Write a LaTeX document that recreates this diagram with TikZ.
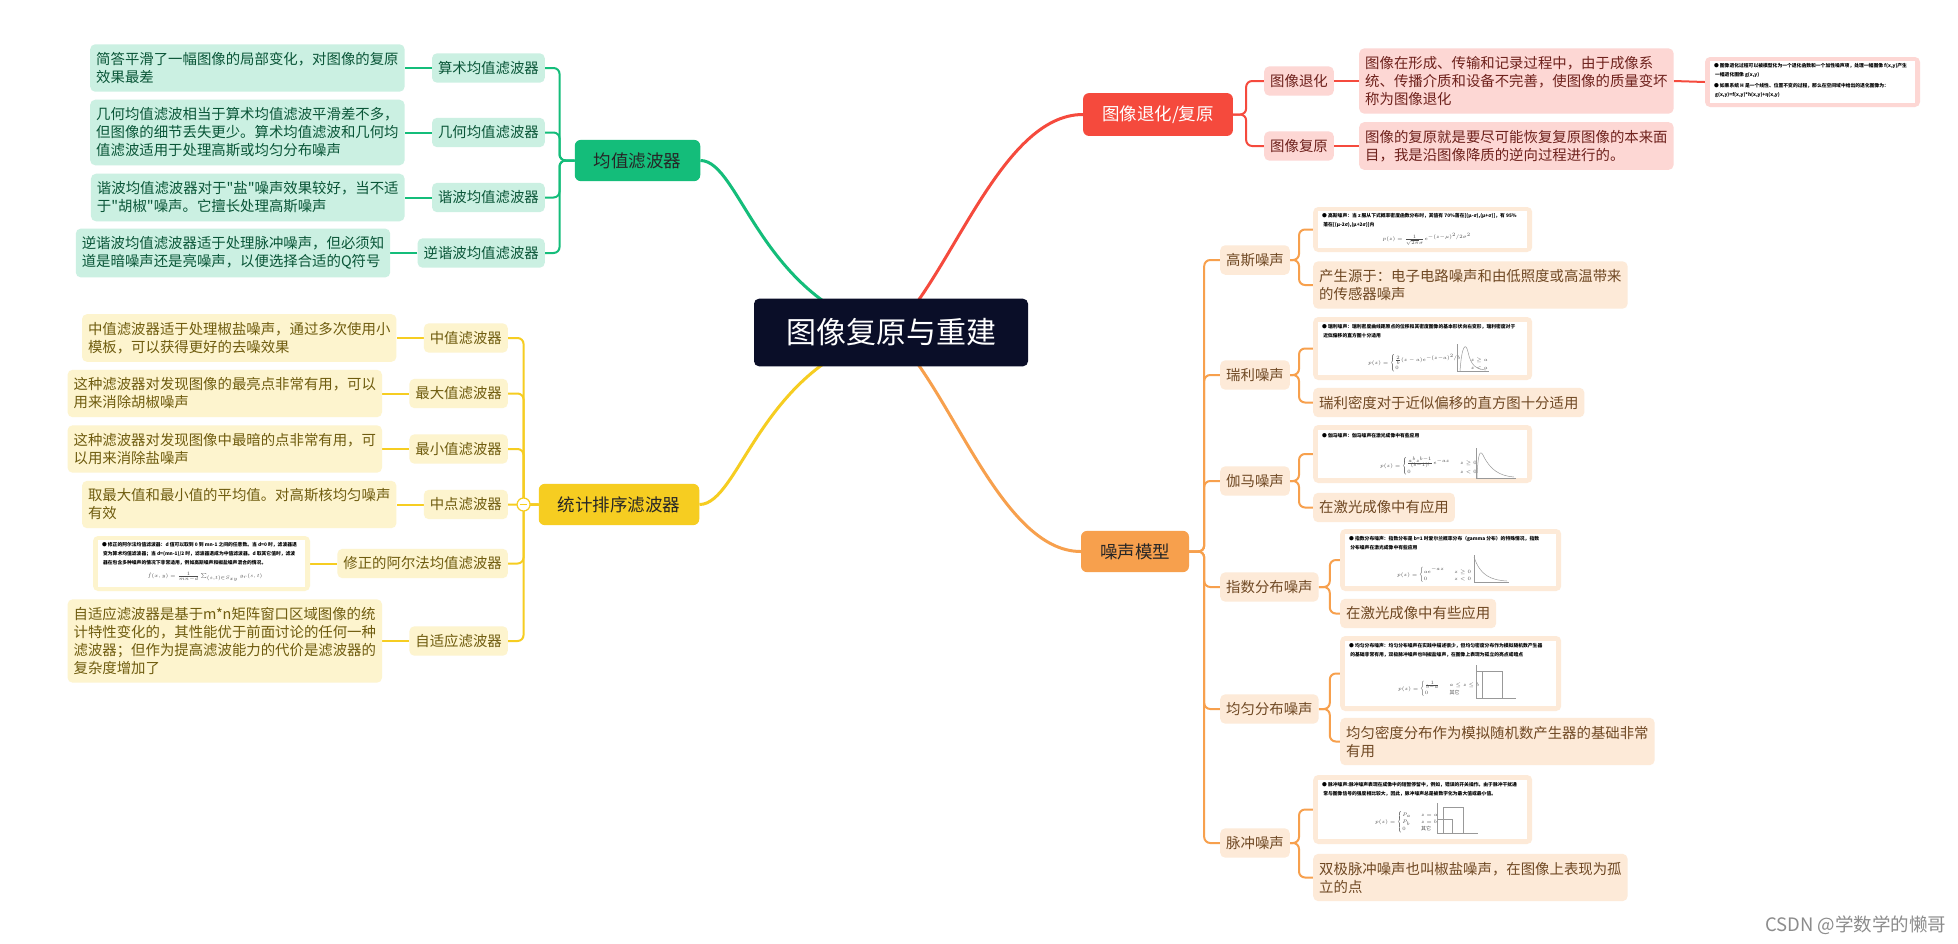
\documentclass[tikz,border=0pt]{standalone}
\usepackage{fontspec}
\usepackage{amsmath}
\setmainfont{Noto Sans CJK SC}
\newfontfamily\cjkplain{Noto Sans CJK SC}
\usetikzlibrary{positioning,calc,backgrounds}
\definecolor{mroot}{RGB}{10,14,40}
\definecolor{mgreen}{RGB}{20,189,122}
\definecolor{myellow}{RGB}{246,205,33}
\definecolor{mred}{RGB}{245,74,61}
\definecolor{morange}{RGB}{247,160,77}
\newcommand\fsroot{\fontsize{30}{36}\selectfont}
\newcommand\fstopic{\fontsize{17.5}{21}\selectfont}
\newcommand\fsbody{\fontsize{14.4}{18}\selectfont}
\newcommand\fsshot{\fontsize{4.8}{9}\selectfont\bfseries}
\newcommand\fsform{\fontsize{5}{6}\selectfont}
\newcommand\dq{{\cjkplain\char34}}
\tikzset{
  root/.style={rectangle,rounded corners=5pt,fill=mroot,text=white,
    font=\fsroot,inner xsep=32pt,inner ysep=20pt},
  topic/.style={rectangle,rounded corners=6pt,fill=#1,text=black!85,
    font=\fstopic,inner xsep=19pt,inner ysep=12.5pt},
  sub/.style={rectangle,rounded corners=5pt,fill=#1!22,text=#1!45!black,
    font=\fsbody,inner xsep=6pt,inner ysep=8pt},
  note/.style={sub=#1,align=left},
  shot/.style={rectangle,rounded corners=5pt,fill=#1!22},
  shotin/.style={rectangle,fill=white},
  tinytxt/.style={font=\fsshot,align=left,inner sep=0pt,anchor=north west},
  tinyfx/.style={font=\fsform,text=black!70,inner sep=0pt},
  sketch/.style={draw=black!40,line width=0.5pt},
  link/.style={line width=2pt,draw=#1,rounded corners=6pt},
  trunk/.style={line width=3pt,draw=#1},
  fold/.style={circle,draw=myellow,line width=1.2pt,fill=white,
    minimum size=13pt,inner sep=0pt,
    path picture={\draw[myellow,line width=1.2pt]
      ([xshift=3pt]path picture bounding box.west) --
      ([xshift=-3pt]path picture bounding box.east);}},
  wmark/.style={font=\fontsize{18.5}{22}\selectfont,text=black!45},
}

\begin{document}
\begin{tikzpicture}[x=1pt,y=-1pt]
  \useasboundingbox (0,0) rectangle (1958,943);

  % centre
  \node[root] (root) at (891,332.5) {图像复原与重建};

  % mean filters
  \node[topic=mgreen] (mean) at (637.5,160.5) {均值滤波器};
  \node[sub=mgreen,anchor=east] (arith) at (545,68) {算术均值滤波器};
  \node[sub=mgreen,anchor=east] (geom) at (545,132.5) {几何均值滤波器};
  \node[sub=mgreen,anchor=east] (harm) at (545,197.5) {谐波均值滤波器};
  \node[sub=mgreen,anchor=east] (charm) at (545,253) {逆谐波均值滤波器};
  \node[note=mgreen,left=27pt of arith] (arithn)
    {简答平滑了一幅图像的局部变化，对图像的复原\\效果最差};
  \node[note=mgreen,left=27pt of geom] (geomn)
    {几何均值滤波相当于算术均值滤波平滑差不多，\\但图像的细节丢失更少。算术均值滤波和几何均\\值滤波适用于处理高斯或均匀分布噪声};
  \node[note=mgreen,left=27pt of harm] (harmn)
    {谐波均值滤波器对于\dq 盐\dq 噪声效果较好，当不适\\于\dq 胡椒\dq 噪声。它擅长处理高斯噪声};
  \node[note=mgreen,left=27pt of charm] (charmn)
    {逆谐波均值滤波器适于处理脉冲噪声，但必须知\\道是暗噪声还是亮噪声，以便选择合适的Q符号};

  % order-statistic filters
  \node[topic=myellow] (order) at (619,504.5) {统计排序滤波器};
  \node[sub=myellow,anchor=east] (median) at (508,338) {中值滤波器};
  \node[sub=myellow,anchor=east] (maxf) at (508,393.5) {最大值滤波器};
  \node[sub=myellow,anchor=east] (minf) at (508,449) {最小值滤波器};
  \node[sub=myellow,anchor=east] (midp) at (508,504.5) {中点滤波器};
  \node[sub=myellow,anchor=east] (alpha) at (508,563.5) {修正的阿尔法均值滤波器};
  \node[sub=myellow,anchor=east] (adapt) at (508,641) {自适应滤波器};
  \node[note=myellow,left=27pt of median] (mediann)
    {中值滤波器适于处理椒盐噪声，通过多次使用小\\模板，可以获得更好的去噪效果};
  \node[note=myellow,left=27pt of maxf] (maxfn)
    {这种滤波器对发现图像的最亮点非常有用，可以\\用来消除胡椒噪声};
  \node[note=myellow,left=27pt of minf] (minfn)
    {这种滤波器对发现图像中最暗的点非常有用，可\\以用来消除盐噪声};
  \node[note=myellow,left=27pt of midp] (midpn)
    {取最大值和最小值的平均值。对高斯核均匀噪声\\有效};
  \node[shot=myellow,left=27pt of alpha,minimum width=217pt,minimum height=55pt] (alphaimg) {};
  \node[shotin,minimum width=207pt,minimum height=47pt] (alphain) at (alphaimg) {};
  \node[tinytxt] (alphat) at ($(alphain.north west)+(4,2)$)
    {● 修正的阿尔法均值滤波器：d 值可以取到 0 到 mn-1 之间的任意数。当 d=0 时，滤波器退\\
     \ 变为算术均值滤波器；当 d=(mn-1)/2 时，滤波器退成为中值滤波器。d 取其它值时，滤波\\
     \ 器在包含多种噪声的情况下非常适用，例如高斯噪声和椒盐噪声混合的情况。};
  \node[tinyfx] (alphaf) at (205,577)
    {$\hat f(x,y)=\frac{1}{mn-d}\sum_{(s,t)\in S_{xy}} g_r(s,t)$};
  \node[note=myellow,left=27pt of adapt] (adaptn)
    {自适应滤波器是基于m*n矩阵窗口区域图像的统\\计特性变化的，其性能优于前面讨论的任何一种\\滤波器；但作为提高滤波能力的代价是滤波器的\\复杂度增加了};

  % degradation / restoration
  \node[topic=mred,text=white] (degr) at (1158,114.5) {图像退化/复原};
  \node[sub=mred,anchor=west] (degrs) at (1264,81) {图像退化};
  \node[sub=mred,anchor=west] (rests) at (1264,146) {图像复原};
  \node[note=mred,right=25pt of degrs] (degrn)
    {图像在形成、传输和记录过程中，由于成像系\\统、传播介质和设备不完善，使图像的质量变坏\\称为图像退化};
  \node[note=mred,right=25pt of rests] (restn)
    {图像的复原就是要尽可能恢复复原图像的本来面\\目，我是沿图像降质的逆向过程进行的。};
  \node[shot=mred,minimum width=215pt,minimum height=50pt] (degrimg) at (1812.5,82) {};
  \node[shotin,minimum width=205pt,minimum height=42pt] (degrin) at (degrimg) {};
  \node[tinytxt] (degrt) at ($(degrin.north west)+(4,2)$)
    {● 图像退化过程可以被模型化为一个退化函数和一个加性噪声项，处理一幅图像 f(x,y)产生\\
     \ 一幅退化图像 g(x,y)\\[2pt]
     ● 如果系统 H 是一个线性、位置不变的过程，那么在空间域中给出的退化图像为：\\
     \ g(x,y)=f(x,y)*h(x,y)+η(x,y)};

  % noise models
  \node[topic=morange] (noise) at (1135,551.5) {噪声模型};
  \node[sub=morange,anchor=west] (gauss) at (1220,260) {高斯噪声};
  \node[sub=morange,anchor=west] (rayl) at (1220,375) {瑞利噪声};
  \node[sub=morange,anchor=west] (gamma) at (1220,481) {伽马噪声};
  \node[sub=morange,anchor=west] (expo) at (1220,587) {指数分布噪声};
  \node[sub=morange,anchor=west] (unif) at (1220,709) {均匀分布噪声};
  \node[sub=morange,anchor=west] (impul) at (1220,843) {脉冲噪声};

  \node[shot=morange,anchor=west,minimum width=219pt,minimum height=45pt] (gaussimg) at (1313,229.5) {};
  \node[shotin,minimum width=209pt,minimum height=37pt] (gaussin) at (gaussimg) {};
  \node[tinytxt] (gausst) at ($(gaussin.north west)+(4,2)$)
    {● 高斯噪声：当 z 服从下式概率密度函数分布时，其值有 70\%落在[(μ-σ),(μ+σ)]，有 95\%\\
     \ 落在[(μ-2σ),(μ+2σ)]内};
  \node[tinyfx] (gaussf) at (1427,239)
    {$p(z)=\frac{1}{\sqrt{2\pi}\sigma}e^{-(z-\mu)^2/2\sigma^2}$};
  \node[note=morange,anchor=west] (gaussn) at (1313,285)
    {产生源于：电子电路噪声和由低照度或高温带来\\的传感器噪声};

  \node[shot=morange,anchor=west,minimum width=219pt,minimum height=63pt] (raylimg) at (1313,348.5) {};
  \node[shotin,minimum width=209pt,minimum height=53pt] (raylin) at (raylimg) {};
  \node[tinytxt] (raylt) at ($(raylin.north west)+(4,2)$)
    {● 瑞利噪声：瑞利密度曲线距原点的位移和其密度图像的基本形状向右变形，瑞利密度对于\\
     \ 近似偏移的直方图十分适用};
  \node[tinyfx,anchor=west] (raylf) at (1368,363)
    {$p(z)=\begin{cases}\frac{2}{b}(z-a)e^{-(z-a)^2/b} & \quad z\ge a\\ 0 & \quad z<a\end{cases}$};
  \node[note=morange,anchor=west] (rayln) at (1313,402.5)
    {瑞利密度对于近似偏移的直方图十分适用};

  \node[shot=morange,anchor=west,minimum width=219pt,minimum height=58pt] (gammaimg) at (1313,454) {};
  \node[shotin,minimum width=209pt,minimum height=48pt] (gammain) at (gammaimg) {};
  \node[tinytxt] (gammat) at ($(gammain.north west)+(4,3)$)
    {● 伽马噪声：伽马噪声在激光成像中有些应用};
  \node[tinyfx,anchor=west] (gammaf) at (1380,466)
    {$p(z)=\begin{cases}\frac{a^b z^{b-1}}{(b-1)!}e^{-az} & \quad z\ge 0\\ 0 & \quad z<0\end{cases}$};
  \node[note=morange,anchor=west] (gamman) at (1313,507.5)
    {在激光成像中有应用};

  \node[shot=morange,anchor=west,minimum width=221pt,minimum height=62pt] (expoimg) at (1340,560) {};
  \node[shotin,minimum width=211pt,minimum height=52pt] (expoin) at (expoimg) {};
  \node[tinytxt] (expot) at ($(expoin.north west)+(4,2)$)
    {● 指数分布噪声：指数分布是 b=1 时爱尔兰概率分布（gamma 分布）的特殊情况，指数\\
     \ 分布噪声在激光成像中有些应用};
  \node[tinyfx,anchor=west] (expof) at (1397,575)
    {$p(z)=\begin{cases}ae^{-az} & \quad z\ge 0\\ 0 & \quad z<0\end{cases}$};
  \node[note=morange,anchor=west] (exponn) at (1340,613.5)
    {在激光成像中有些应用};

  \node[shot=morange,anchor=west,minimum width=221pt,minimum height=75pt] (unifimg) at (1340,673.5) {};
  \node[shotin,minimum width=211pt,minimum height=65pt] (unifin) at (unifimg) {};
  \node[tinytxt] (unift) at ($(unifin.north west)+(4,2)$)
    {● 均匀分布噪声：均匀分布噪声在实践中描述很少，但均匀密度分布作为模拟随机数产生器\\
     \ 的基础非常有用，双极脉冲噪声也叫椒盐噪声，在图像上表现为孤立的亮点或暗点};
  \node[tinyfx,anchor=west] (uniff) at (1398,689)
    {$p(z)=\begin{cases}\frac{1}{b-a} & \quad a\le z\le b\\ 0 & \quad \text{其它}\end{cases}$};
  \node[note=morange,anchor=west] (unifn) at (1340,741.5)
    {均匀密度分布作为模拟随机数产生器的基础非常\\有用};

  \node[shot=morange,anchor=west,minimum width=219pt,minimum height=69pt] (impulimg) at (1313,809.5) {};
  \node[shotin,minimum width=209pt,minimum height=59pt] (impulin) at (impulimg) {};
  \node[tinytxt] (impult) at ($(impulin.north west)+(4,2)$)
    {● 脉冲噪声:脉冲噪声表现在成像中的短暂停留中，例如，错误的开关操作。由于脉冲干扰通\\
     \ 常与图像信号的强度相比较大，因此，脉冲噪声总是被数字化为最大值或最小值。};
  \node[tinyfx,anchor=west] (impulf) at (1375,822)
    {$p(z)=\begin{cases}P_a & \quad z=a\\ P_b & \quad z=b\\ 0 & \quad \text{其它}\end{cases}$};
  \node[note=morange,anchor=west] (impuln) at (1313,877.5)
    {双极脉冲噪声也叫椒盐噪声，在图像上表现为孤\\立的点};

  % little plots inside the screenshots
  \draw[sketch] (1457,344) -- (1457,371) -- (1489,371);
  \draw[sketch] (1460,371) .. controls (1462,343) and (1466,343) .. (1468,352)
    .. controls (1471,366) and (1476,369) .. (1486,370);
  \draw[sketch] (1476,448) -- (1476,478) -- (1516,478);
  \draw[sketch] (1477,478) .. controls (1478,452) and (1480,450) .. (1483,455)
    .. controls (1490,470) and (1500,476) .. (1514,477);
  \draw[sketch] (1474,555) -- (1474,582) -- (1509,582);
  \draw[sketch] (1474,557) .. controls (1480,575) and (1490,580) .. (1507,581);
  \draw[sketch] (1476,665) -- (1476,698) -- (1516,698);
  \draw[sketch] (1476,671) -- (1482,671) -- (1482,698);
  \draw[sketch] (1482,671) -- (1502,671) -- (1502,698);
  \draw[sketch] (1437,803) -- (1437,833) -- (1478,833);
  \draw[sketch] (1443,833) -- (1443,807) -- (1463,807) -- (1463,833);
  \draw[sketch] (1437,819) -- (1452,819) -- (1452,833);

  \node[wmark,anchor=east] (wm) at (1950,925) {CSDN @学数学的懒哥};

  \begin{scope}[on background layer]
    \fill[white] (0,0) rectangle (1958,943);
    \draw[trunk=mgreen] (root.center) .. controls (760,300) and (740,160.5) .. (mean.east);
    \draw[trunk=myellow] (root.center) .. controls (760,365) and (740,504.5) .. (order.east);
    \draw[trunk=mred] (root.center) .. controls (950,280) and (1000,114.5) .. (degr.west);
    \draw[trunk=morange] (root.center) .. controls (950,385) and (1000,551.5) .. (noise.west);

    \foreach \k in {arith,geom,harm,charm}
      \draw[link=mgreen] (mean.west) -- ++(-15,0) |- (\k.east);
    \foreach \k in {arith,geom,harm,charm}
      \draw[link=mgreen] (\k.west) -- (\k n.east);

    \foreach \k in {median,maxf,minf,midp,alpha,adapt}
      \draw[link=myellow] (order.west) -- ++(-15,0) |- (\k.east);
    \foreach \k in {median,maxf,minf,midp,adapt}
      \draw[link=myellow] (\k.west) -- (\k n.east);
    \draw[link=myellow] (alpha.west) -- (alphaimg.east);

    \foreach \k in {degrs,rests}
      \draw[link=mred] (degr.east) -- ++(13,0) |- (\k.west);
    \draw[link=mred] (degrs.east) -- (degrn.west);
    \draw[link=mred] (rests.east) -- (restn.west);
    \draw[link=mred] (degrn.east) -- (degrimg.west);

    \foreach \k in {gauss,rayl,gamma,expo,unif,impul}
      \draw[link=morange] (noise.east) -- ++(15,0) |- (\k.west);
    \foreach \k in {gauss,rayl,gamma,impul}
      \draw[link=morange] (\k.east) -- ++(9,0) |- (\k img.west);
    \foreach \k in {gauss,rayl,gamma,impul}
      \draw[link=morange] (\k.east) -- ++(9,0) |- (\k n.west);
    \foreach \k in {expo,unif}
      \draw[link=morange] (\k.east) -- ++(11,0) |- (\k img.west);
    \draw[link=morange] (expo.east) -- ++(11,0) |- (exponn.west);
    \draw[link=morange] (unif.east) -- ++(11,0) |- (unifn.west);
  \end{scope}

  \node[fold] (foldbtn) at ($(order.west)+(-15,0)$) {};
\end{tikzpicture}
\end{document}
